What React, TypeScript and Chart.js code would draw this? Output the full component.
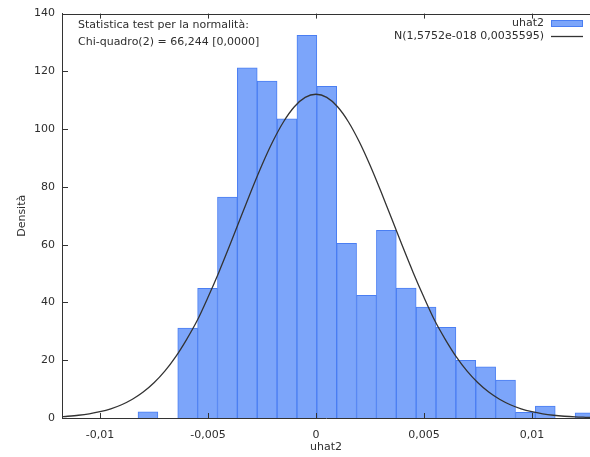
import React, { useEffect, useRef } from "react";
import { Chart, registerables } from "chart.js";

Chart.register(...registerables);

// Histogram bin centers (uhat2) and densities
const binCenters = [
  -0.00778, -0.00686, -0.00594, -0.00502, -0.0041, -0.00318, -0.00226, -0.00134,
  -0.00042, 0.0005, 0.00142, 0.00234, 0.00326, 0.00418, 0.0051, 0.00602,
  0.00694, 0.00786, 0.00878, 0.0097, 0.01062, 0.01154, 0.01246,
];
const binDensity = [
  2.1, 0, 31.1, 44.9, 76.5, 121.2, 116.6, 103.6,
  132.5, 114.8, 60.5, 42.5, 65, 45, 38.4, 31.4,
  20, 17.7, 13.1, 2, 4.1, 0, 1.8,
];

// Normal curve N(1,5752e-018 0,0035595) read at sample points
const curveX = [
  -0.0118, -0.0115, -0.011, -0.0105, -0.01, -0.0095, -0.009, -0.0085, -0.008, -0.0075,
  -0.007, -0.0065, -0.006, -0.0055, -0.005, -0.0045, -0.004, -0.0035, -0.003, -0.0025,
  -0.002, -0.0015, -0.001, -0.0005, 0, 0.0005, 0.001, 0.0015, 0.002, 0.0025,
  0.003, 0.0035, 0.004, 0.0045, 0.005, 0.0055, 0.006, 0.0065, 0.007, 0.0075,
  0.008, 0.0085, 0.009, 0.0095, 0.01, 0.0105, 0.011, 0.0115, 0.012, 0.0125, 0.0127,
];
const curveY = [
  0.46, 0.61, 0.95, 1.45, 2.17, 3.18, 4.59, 6.48, 8.97, 12.18,
  16.21, 21.16, 27.07, 33.74, 41.79, 50.41, 59.61, 69.12, 78.58, 87.58,
  95.71, 102.56, 107.74, 110.98, 112.08, 110.98, 107.74, 102.56, 95.71, 87.58,
  78.58, 69.12, 59.61, 50.41, 41.79, 33.74, 27.07, 21.16, 16.21, 12.18,
  8.97, 6.48, 4.59, 3.18, 2.17, 1.45, 0.95, 0.61, 0.38, 0.24, 0.19,
];

const seriesLabels = ["uhat2", "N(1,5752e-018 0,0035595)"];
const noteLines = ["Statistica test per la normalità:", "Chi-quadro(2) = 66,244 [0,0000]"];
const xTitle = "uhat2";
const yTitle = "Densità";

const FONT = "DejaVu Sans";
const TEXT = "#2e2e2e";
const AXIS = "#333333";
const BAR_FILL = "#7ca5fa";
const BAR_EDGE = "#4a7ef2";
const LINE = "#333333";

const fmtX = (v: number) => {
  const r = +v.toFixed(4);
  if (Math.abs(r) < 1e-9) return "0";
  return String(r).replace(".", ",");
};

const decorPlugin = {
  id: "decor",
  afterDraw(chart: any) {
    const { ctx, chartArea, scales } = chart;
    const { left, right, top, bottom } = chartArea;
    ctx.save();
    ctx.strokeStyle = AXIS;
    ctx.lineWidth = 1;
    // top border
    ctx.beginPath();
    ctx.moveTo(left, Math.round(top) + 0.5);
    ctx.lineTo(right, Math.round(top) + 0.5);
    ctx.stroke();
    // inward ticks
    ctx.beginPath();
    scales.x.ticks.forEach((t: any) => {
      const px = Math.round(scales.x.getPixelForValue(t.value)) + 0.5;
      ctx.moveTo(px, bottom);
      ctx.lineTo(px, bottom - 5);
      ctx.moveTo(px, top);
      ctx.lineTo(px, top + 5);
    });
    scales.y.ticks.forEach((t: any) => {
      const py = Math.round(scales.y.getPixelForValue(t.value)) + 0.5;
      ctx.moveTo(left, py);
      ctx.lineTo(left + 6, py);
    });
    ctx.stroke();

    ctx.font = `11px "${FONT}"`;
    ctx.fillStyle = TEXT;
    // note text
    ctx.textAlign = "left";
    ctx.textBaseline = "middle";
    ctx.fillText(noteLines[0], left + 16, top + 12);
    ctx.fillText(noteLines[1], left + 16, top + 29);

    // legend (histogram first, then curve)
    const tx = 544;
    const bx0 = 551;
    const bx1 = 583;
    const rows = [23, 36];
    seriesLabels.forEach((lab, i) => {
      ctx.fillStyle = TEXT;
      ctx.textAlign = "right";
      ctx.fillText(lab, tx, rows[i]);
      if (i === 1) {
        ctx.strokeStyle = LINE;
        ctx.lineWidth = 1.3;
        ctx.beginPath();
        ctx.moveTo(bx0, rows[i] + 0.5);
        ctx.lineTo(bx1, rows[i] + 0.5);
        ctx.stroke();
      } else {
        ctx.fillStyle = BAR_FILL;
        ctx.fillRect(bx0, rows[i] - 3, bx1 - bx0, 7);
        ctx.strokeStyle = BAR_EDGE;
        ctx.lineWidth = 1;
        ctx.strokeRect(bx0 + 0.5, rows[i] - 2.5, bx1 - bx0 - 1, 6);
      }
    });
    ctx.restore();
  },
};

export default function App() {
  const ref = useRef<HTMLCanvasElement | null>(null);
  useEffect(() => {
    if (!ref.current) return;
    const chart = new Chart(ref.current, {
      type: "bar",
      data: {
        datasets: [
          {
            type: "line",
            label: seriesLabels[1],
            data: curveX.map((x, i) => ({ x, y: curveY[i] })),
            borderColor: LINE,
            borderWidth: 1.3,
            pointRadius: 0,
            tension: 0.3,
            fill: false,
            order: 0,
          } as any,
          {
            type: "bar",
            label: seriesLabels[0],
            data: binCenters.map((x, i) => ({ x, y: binDensity[i] })),
            backgroundColor: BAR_FILL,
            borderColor: BAR_EDGE,
            borderWidth: 1,
            barPercentage: 1,
            categoryPercentage: 1,
            order: 1,
          } as any,
        ],
      },
      options: {
        animation: false,
        responsive: false,
        maintainAspectRatio: false,
        layout: { padding: { top: 13, right: 0, left: 0, bottom: 0 } },
        plugins: { legend: { display: false }, tooltip: { enabled: false } },
        font: { family: FONT, size: 11 },
        scales: {
          x: {
            type: "linear",
            offset: false,
            min: -0.01176,
            max: 0.01269,
            grid: { display: false, drawTicks: false, offset: false },
            border: { display: true, color: AXIS, width: 1 },
            ticks: {
              includeBounds: false,
              stepSize: 0.005,
              padding: 11,
              color: TEXT,
              font: { family: FONT, size: 11 },
              maxRotation: 0,
              callback: (v: any) => fmtX(Number(v)),
            },
            title: {
              display: true,
              text: xTitle,
              color: TEXT,
              font: { family: FONT, size: 11 },
              padding: { top: 0, bottom: 3.4 },
            },
            afterFit: (s: any) => {
              s.height = 39;
            },
          },
          y: {
            min: 0,
            max: 140,
            grid: { display: false, drawTicks: false },
            border: { display: true, color: AXIS, width: 1 },
            ticks: {
              stepSize: 20,
              padding: 7,
              color: TEXT,
              font: { family: FONT, size: 11 },
            },
            title: {
              display: true,
              text: yTitle,
              color: TEXT,
              font: { family: FONT, size: 11 },
              padding: { top: 15.4, bottom: 0 },
            },
            afterFit: (s: any) => {
              s.width = 62;
            },
          },
        },
      } as any,
      plugins: [decorPlugin],
    });
    return () => chart.destroy();
  }, []);
  return (
    <div style={{ position: "fixed", left: 0, top: 0, width: 590, height: 457, background: "#fff" }}>
      <canvas ref={ref} width={590} height={457} style={{ width: 590, height: 457, display: "block" }} />
    </div>
  );
}
